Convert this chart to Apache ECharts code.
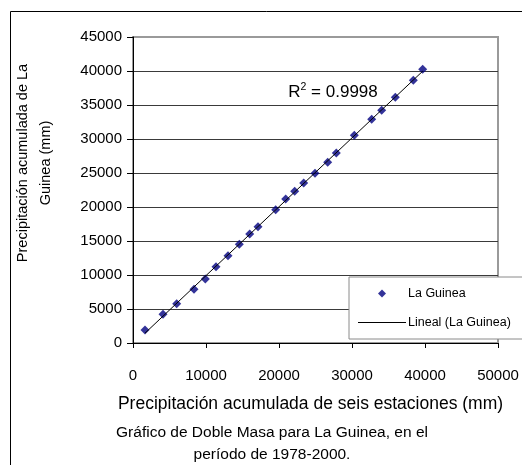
<!DOCTYPE html>
<html>
<head>
<meta charset="utf-8">
<script src="https://cdn.jsdelivr.net/npm/echarts@6/dist/echarts.min.js"></script>
<style>
html,body{margin:0;padding:0;background:#fff;}
#c{width:522px;height:465px;}
</style>
</head>
<body>
<div id="c"></div>
<script>
// Cumulative precipitation, six stations (x) vs La Guinea (y), 1978-2000
var xCum = [1644, 4110, 5986, 8356, 9904, 11370, 13014, 14562, 15986, 17123, 19548, 20918, 22151, 23384, 24932, 26671, 27849, 30315, 32699, 34068, 35932, 38397, 39685];
var yCum = [1912, 4221, 5779, 7897, 9412, 11221, 12838, 14515, 16029, 17103, 19603, 21176, 22309, 23529, 24971, 26574, 27941, 30544, 32897, 34221, 36132, 38632, 40250];
var xTicks = [0, 10000, 20000, 30000, 40000, 50000];
var yTicks = [0, 5000, 10000, 15000, 20000, 25000, 30000, 35000, 40000, 45000];
var seriesName = 'La Guinea';
var trendName = 'Lineal (La Guinea)';
var r2Text = '0.9998';
var yTitle = ['Precipitación acumulada de La', 'Guinea (mm)'];
var xTitle = 'Precipitación acumulada de seis estaciones (mm)';
var caption = ['Gráfico de Doble Masa para La Guinea, en el', 'período de 1978-2000.'];

var pts = xCum.map(function (x, i) { return [x, yCum[i]]; });
// least-squares trendline
var n = xCum.length, sx = 0, sy = 0, sxx = 0, sxy = 0;
for (var i = 0; i < n; i++) { sx += xCum[i]; sy += yCum[i]; sxx += xCum[i] * xCum[i]; sxy += xCum[i] * yCum[i]; }
var slope = (n * sxy - sx * sy) / (n * sxx - sx * sx);
var icpt = (sy - slope * sx) / n;
var xMin = Math.min.apply(null, xCum), xMax = Math.max.apply(null, xCum);
var trend = [[xMin, icpt + slope * xMin], [xMax, icpt + slope * xMax]];

var FONT = 'Liberation Sans, Arial, sans-serif';
var plain = function (v) { return String(v); };
var chart = echarts.init(document.getElementById('c'), null, {renderer: 'canvas'});
chart.setOption({
  animation: false,
  backgroundColor: '#fff',
  grid: {left: 133, right: 24, top: 37, bottom: 122, show: true, borderColor: '#9a9a9a', borderWidth: 2, backgroundColor: 'transparent'},
  xAxis: {
    type: 'value', min: xTicks[0], max: xTicks[xTicks.length - 1], interval: 10000,
    axisLine: {show: true, onZero: false, lineStyle: {color: '#000', width: 1}},
    axisTick: {show: true, length: 5, lineStyle: {color: '#000'}},
    axisLabel: {color: '#000', fontSize: 15, fontFamily: FONT, margin: 25, formatter: plain},
    splitLine: {show: false},
    name: xTitle, nameLocation: 'middle', nameGap: 52,
    nameTextStyle: {color: '#000', fontSize: 17.5, fontFamily: FONT, padding: [0, 10, 0, 0]}
  },
  yAxis: {
    type: 'value', min: yTicks[0], max: yTicks[yTicks.length - 1], interval: 5000,
    axisLine: {show: true, onZero: false, lineStyle: {color: '#000', width: 1}},
    axisTick: {show: true, length: 6, lineStyle: {color: '#000'}},
    axisLabel: {color: '#000', fontSize: 15, fontFamily: FONT, margin: 11, formatter: plain},
    splitLine: {show: true, showMaxLine: false, lineStyle: {color: '#3a3a3a', width: 1}}
  },
  legend: {
    orient: 'vertical', left: 349, top: 277,
    data: [
      {name: seriesName, icon: 'path://M4,0 L8,4 L4,8 L0,4 Z'},
      {name: trendName, icon: 'path://M0,0 L48,0 L48,1 L0,1 Z'}
    ],
    symbolKeepAspect: true,
    itemWidth: 48, itemHeight: 8, itemGap: 16,
    padding: [10, 20, 10, 9],
    borderColor: '#8a8a8a', borderWidth: 1, backgroundColor: '#fff',
    textStyle: {color: '#000', fontSize: 12.5, fontFamily: FONT, padding: [0, 0, 0, -3]}
  },
  series: [
    {
      name: seriesName, type: 'scatter', data: pts, symbol: 'diamond', symbolSize: 9,
      itemStyle: {color: '#00007f'}, z: 3
    },
    {
      name: trendName, type: 'line', data: trend, symbol: 'none', showSymbol: false,
      lineStyle: {color: '#000', width: 1}, itemStyle: {color: '#000'}, z: 4, silent: true
    }
  ],
  graphic: [
    {type: 'line', shape: {x1: 10.5, y1: 11.5, x2: 522, y2: 11.5}, style: {stroke: '#000', lineWidth: 1}},
    {type: 'line', shape: {x1: 10.5, y1: 11.5, x2: 10.5, y2: 465}, style: {stroke: '#000', lineWidth: 1}},
    {type: 'text', x: 34, y: 163, rotation: Math.PI / 2, style: {
      text: yTitle.join('\n'), fill: '#000', font: '14.5px ' + FONT, align: 'center', verticalAlign: 'middle', lineHeight: 23
    }},
    {type: 'text', x: 333, y: 92, style: {
      text: '{a|R}{s|2}{a| = ' + r2Text + '}', align: 'center', verticalAlign: 'middle',
      rich: {a: {fontSize: 17, fontFamily: FONT, color: '#000'}, s: {fontSize: 10.5, fontFamily: FONT, color: '#000', verticalAlign: 'top', padding: [0, 0, 10, 0]}}
    }},
    {type: 'text', x: 272, y: 444, style: {
      text: caption.join('\n'), fill: '#000', font: '15.5px ' + FONT, align: 'center', verticalAlign: 'middle', lineHeight: 22
    }}
  ]
});
</script>
</body>
</html>
